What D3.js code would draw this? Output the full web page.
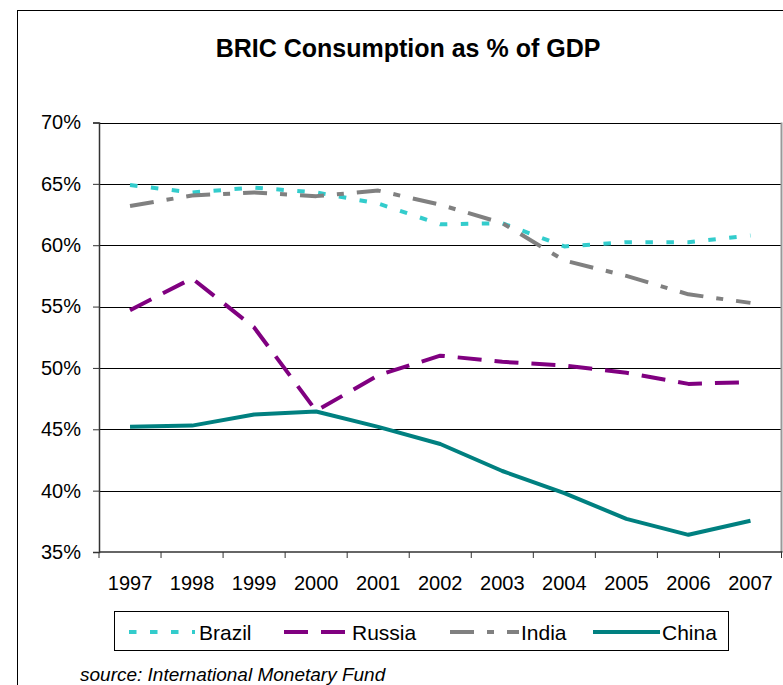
<!DOCTYPE html>
<html>
<head>
<meta charset="utf-8">
<script src="https://cdn.jsdelivr.net/npm/d3@7"></script>
<style>
  html, body { margin: 0; padding: 0; background: #fff; }
  svg { display: block; }
  text { font-family: "Liberation Sans", Arial, sans-serif; fill: #000; }
</style>
</head>
<body>
<svg id="chart" width="783" height="685"></svg>
<script>
const years = ["1997","1998","1999","2000","2001","2002","2003","2004","2005","2006","2007"];
const brazil = [64.9, 64.3, 64.7, 64.3, 63.4, 61.7, 61.8, 59.9, 60.25, 60.25, 60.8];
const russia = [54.7, 57.3, 53.3, 46.5, 49.4, 51.0, 50.5, 50.2, 49.6, 48.7, 48.85];
const india  = [63.2, 64.05, 64.3, 64.0, 64.45, 63.3, 61.8, 58.75, 57.5, 56.0, 55.3];
const china  = [45.2, 45.3, 46.2, 46.45, 45.2, 43.8, 41.6, 39.8, 37.7, 36.4, 37.55];
const yTicks = [35, 40, 45, 50, 55, 60, 65, 70];
const seriesNames = ["Brazil", "Russia", "India", "China"];
const seriesColors = ["#33CCCC", "#800080", "#808080", "#008080"];
const seriesDash = ["7.5,13.5", "24,13", "24,13,7,13", null];
const titleText = "BRIC Consumption as % of GDP";
const sourceText = "source: International Monetary Fund";

const seriesValues = [brazil, russia, india, china];

const svg = d3.select("#chart");

// outer chart border
svg.append("rect")
  .attr("x", 17.5).attr("y", 10.5)
  .attr("width", 800).attr("height", 700)
  .attr("fill", "#fff").attr("stroke", "#000").attr("stroke-width", 1);

const plotL = 99, plotR = 781.5, plotT = 122.5, plotB = 552;

const x = d3.scaleBand().domain(years).range([plotL, plotR]).padding(0);
const y = d3.scaleLinear().domain([35, 70]).range([plotB, plotT]);

// title
svg.append("text")
  .attr("x", 408).attr("y", 57)
  .attr("text-anchor", "middle")
  .style("font-size", "25px").style("font-weight", "bold")
  .text(titleText);

// gridlines
svg.append("g").selectAll("line").data(yTicks.filter(v => v > 35)).join("line")
  .attr("x1", plotL).attr("x2", plotR)
  .attr("y1", d => Math.round(y(d)) + 0.5).attr("y2", d => Math.round(y(d)) + 0.5)
  .attr("stroke", "#000").attr("stroke-width", 1);

// plot-area right border
svg.append("line")
  .attr("x1", plotR).attr("x2", plotR).attr("y1", plotT).attr("y2", plotB)
  .attr("stroke", "#999").attr("stroke-width", 2);

// y axis
const yAxis = d3.axisLeft(y).tickValues(yTicks).tickSize(6).tickPadding(12)
  .tickFormat(d => d + "%");
const gy = svg.append("g").attr("transform", `translate(${plotL},0)`).call(yAxis);
gy.select(".domain").attr("stroke", "#333").attr("stroke-width", 1.5);
gy.selectAll(".tick line").attr("stroke", "#333");
gy.selectAll("text").style("font-size", "20px").style("font-family", '"Liberation Sans", Arial, sans-serif');

// x axis (labels)
const xAxis = d3.axisBottom(x).tickSize(0).tickPadding(24);
const gx = svg.append("g").attr("transform", `translate(0,${plotB})`).call(xAxis);
gx.select(".domain").remove();
gx.selectAll("text").style("font-size", "20px").style("font-family", '"Liberation Sans", Arial, sans-serif');

// x axis line & boundary ticks
svg.append("line").attr("x1", plotL).attr("x2", plotR + 1).attr("y1", plotB).attr("y2", plotB)
  .attr("stroke", "#333").attr("stroke-width", 1.5);
const bounds = years.map(d => x(d)).concat([x.range()[1]]);
svg.append("g").selectAll("line").data(bounds).join("line")
  .attr("x1", d => d).attr("x2", d => d).attr("y1", plotB).attr("y2", plotB + 6)
  .attr("stroke", "#333").attr("stroke-width", 1);

// lines
const line = d3.line()
  .x((d, i) => x(years[i]) + x.bandwidth() / 2)
  .y(d => y(d));

seriesValues.forEach((vals, k) => {
  svg.append("path")
    .datum(vals)
    .attr("d", line)
    .attr("fill", "none")
    .attr("stroke", seriesColors[k])
    .attr("stroke-width", 4)
    .attr("stroke-linejoin", "round")
    .attr("stroke-dasharray", seriesDash[k]);
});

// legend
svg.append("rect").attr("x", 114.5).attr("y", 611.5).attr("width", 614).attr("height", 39)
  .attr("fill", "#fff").attr("stroke", "#000").attr("stroke-width", 1);
const legendItems = [
  {sx: 129, ex: 195, tx: 199},
  {sx: 284, ex: 347, tx: 352},
  {sx: 450, ex: 519, tx: 521},
  {sx: 593, ex: 660, tx: 662}
];
legendItems.forEach((it, k) => {
  svg.append("line")
    .attr("x1", it.sx).attr("x2", it.ex).attr("y1", 632).attr("y2", 632)
    .attr("stroke", seriesColors[k]).attr("stroke-width", 4)
    .attr("stroke-dasharray", seriesDash[k]);
  svg.append("text").attr("x", it.tx).attr("y", 639.5)
    .style("font-size", "21px").text(seriesNames[k]);
});

// source
svg.append("text").attr("x", 80).attr("y", 681)
  .style("font-size", "19px").style("font-style", "italic")
  .text(sourceText);
</script>
</body>
</html>
